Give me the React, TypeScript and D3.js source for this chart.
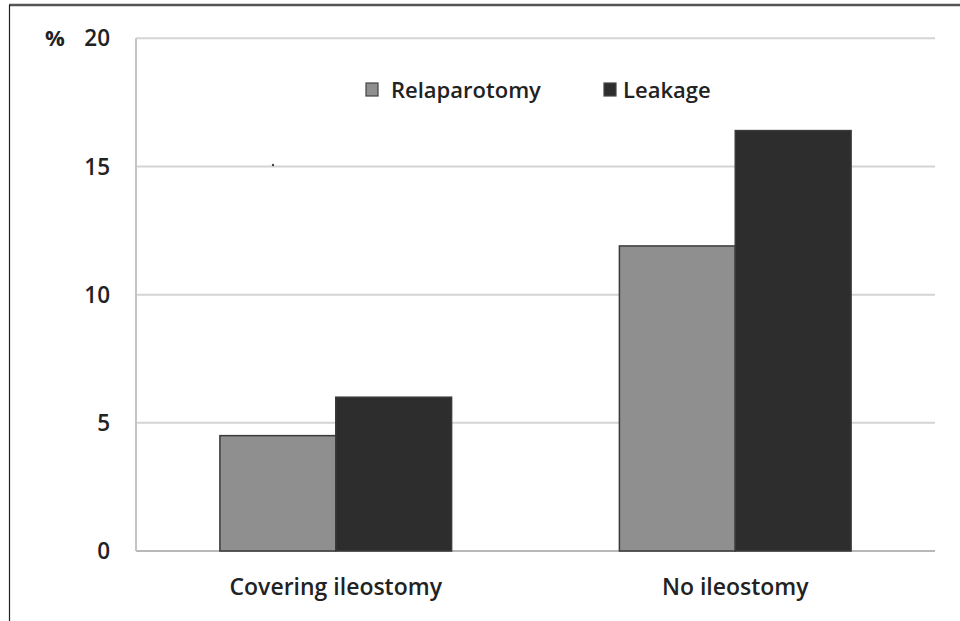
import React from "react";
import * as d3 from "d3";

const categories = ["Covering ileostomy", "No ileostomy"];
const seriesNames = ["Relaparotomy", "Leakage"];
const relaparotomy = [4.5, 11.9];
const leakage = [6.0, 16.4];
const yTicks = [0, 5, 10, 15, 20];
const colors = ["#8f8f8f", "#2d2d2d"];

const W = 960;
const H = 621;
const FONT = "'Open Sans', 'Noto Sans', sans-serif";

export default function App() {
  const left = 136, right = 935, top = 38.3, bottom = 551;
  const x0 = d3.scaleBand<string>().domain(categories).range([left, right]).paddingInner(0.42).paddingOuter(0.21);
  const x1 = d3.scaleBand<string>().domain(seriesNames).range([0, x0.bandwidth()]).padding(0);
  const y = d3.scaleLinear().domain([0, 20]).range([bottom, top]);
  const values = [relaparotomy, leakage];
  const fw = 600;
  const tc = "#222";

  return (
    <svg width={W} height={H} style={{ position: "fixed", left: 0, top: 0, background: "#fff" }} fontFamily={FONT}>
      <rect x={0} y={0} width={W} height={H} fill="#fff" />
      {/* frame */}
      <line x1={9} x2={W} y1={5} y2={5} stroke="#555" strokeWidth={2.5} />
      <line x1={9.5} x2={9.5} y1={5} y2={H} stroke="#222" strokeWidth={1.2} />
      {/* gridlines */}
      {yTicks.map((t) => (
        <line key={t} x1={left} x2={right} y1={y(t)} y2={y(t)} stroke={t === 0 ? "#b8b8b8" : "#d4d4d4"} strokeWidth={2} />
      ))}
      <line x1={left} x2={left} y1={top} y2={bottom} stroke="#c4c4c4" strokeWidth={2} />
      {/* tick labels */}
      {yTicks.map((t) => (
        <text key={t} x={110} y={y(t)} dy="0.36em" textAnchor="end" fontSize={22.5} fontWeight={fw} fill={tc}>{t}</text>
      ))}
      <text x={55} y={y(20)} dy="0.36em" textAnchor="middle" fontSize={22} fontWeight={700} fill={tc}>%</text>
      {/* bars */}
      {categories.map((c, i) => (
        <g key={c}>
          {seriesNames.map((s, j) => {
            const bx = (x0(c) as number) + (x1(s) as number);
            const by = y(values[j][i]);
            return (
              <rect key={s} x={bx} y={by} width={x1.bandwidth()} height={bottom - by} fill={colors[j]} stroke="#3a3a3a" strokeWidth={1.5} />
            );
          })}
          <text x={(x0(c) as number) + x0.bandwidth() / 2} y={595} textAnchor="middle" fontSize={23} fontWeight={fw} fill={tc}>{c}</text>
        </g>
      ))}
      {/* legend */}
      {[{ x: 366, tx: 391 }, { x: 604, tx: 623 }].map((p, j) => (
        <g key={seriesNames[j]}>
          <rect x={p.x} y={83} width={12} height={13} fill={colors[j]} stroke="#444" strokeWidth={1.2} />
          <text x={p.tx} y={90} dy="0.36em" fontSize={22} fontWeight={fw} fill={tc}>{seriesNames[j]}</text>
        </g>
      ))}
      <circle cx={273} cy={165} r={1.2} fill="#444" />
    </svg>
  );
}
